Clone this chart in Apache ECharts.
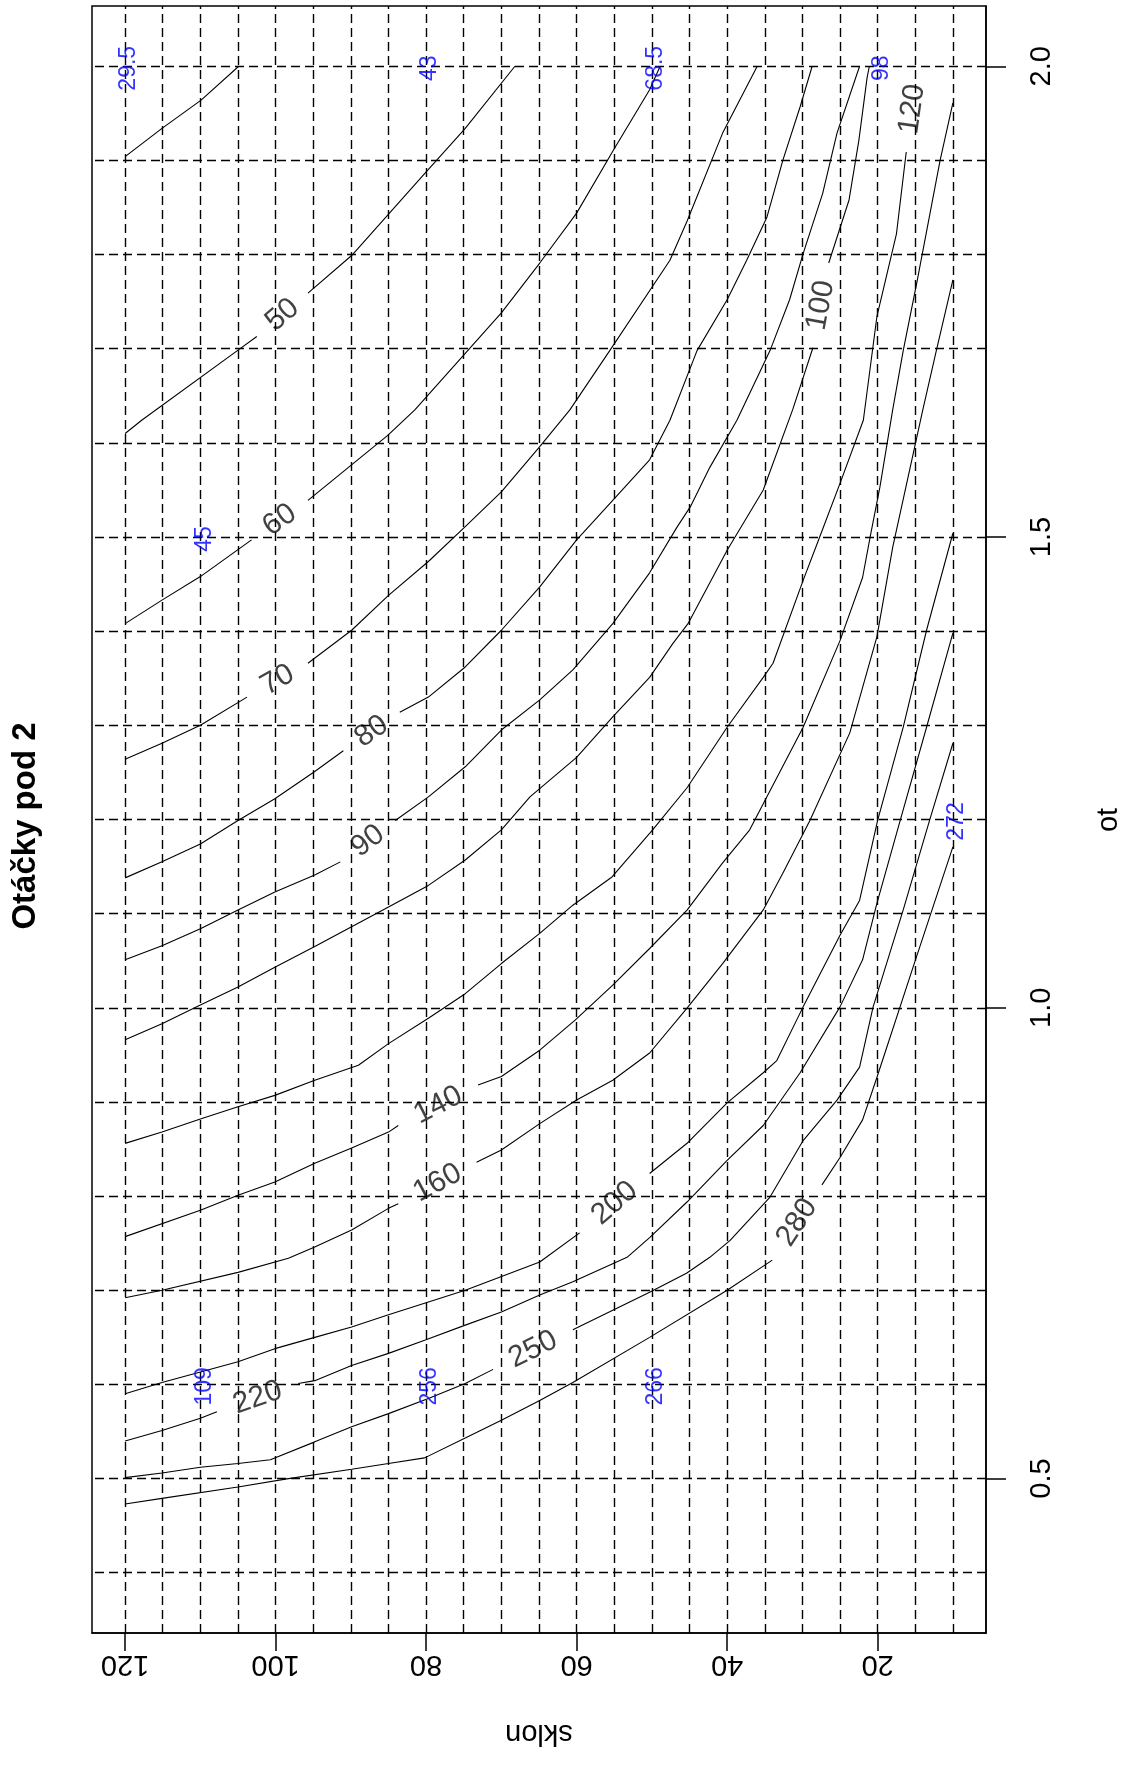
<!DOCTYPE html>
<html><head><meta charset="utf-8">
<script src="https://cdn.jsdelivr.net/npm/echarts/dist/echarts.min.js"></script>
<style>html,body{margin:0;padding:0;background:#fff}#c{width:1127px;height:1765px}</style>
</head><body><div id="c"></div>
<script>
// ---- data ----
const titleText = 'Otáčky pod 2';
const sklonName = 'sklon';
const otName = 'ot';
const sklonTicks = [20, 40, 60, 80, 100, 120];
const otTicks = [0.5, 1.0, 1.5, 2.0];
const sklonGrid = [10,15,20,25,30,35,40,45,50,55,60,65,70,75,80,85,90,95,100,105,110,115,120];
const otGrid = [0.4,0.5,0.6,0.7,0.8,0.9,1.0,1.1,1.2,1.3,1.4,1.5,1.6,1.7,1.8,1.9,2.0];
const sklonRange = [10, 120];
const otRange = [0.4, 2.0];

// contour lines: [sklon, ot]; a level's pieces are split where R put its label
const c40 = [[[120,1.904],[115.1,1.934],[109.9,1.964],[104.9,2.0]]];
const c50 = [[[120,1.610],[117.8,1.624],[104.9,1.699],[102.5,1.713]],
  [[95.7,1.759],[89.9,1.799],[80.2,1.886],[74.8,1.934],[68.2,2.0]]];
const c60 = [[[120,1.408],[115.1,1.433],[110.0,1.458],[103.2,1.497]],
  [[95.7,1.539],[85.1,1.608],[81.5,1.635],[74.8,1.695],[70.0,1.738],[64.9,1.791],[60.0,1.844],[55.1,1.911],[50.3,1.975],[48.9,2.0]]];
const c70 = [[[120,1.264],[115.1,1.281],[110.0,1.300],[103.8,1.330]],
  [[95.7,1.366],[89.9,1.401],[85.0,1.438],[79.7,1.474],[74.8,1.511],[70.0,1.548],[64.9,1.596],[60.9,1.635],[55.6,1.698],[47.6,1.794],[45.3,1.836],[40.6,1.929],[36.0,2.0]]];
const c80 = [[[120,1.138],[115.1,1.155],[110.0,1.174],[105.0,1.199],[100.1,1.222],[94.8,1.251],[91.0,1.273]],
  [[83.5,1.314],[79.7,1.330],[74.8,1.362],[70.0,1.401],[64.9,1.447],[60.0,1.497],[55.2,1.539],[50.3,1.582],[47.6,1.624],[44.0,1.698],[40.0,1.752],[37.4,1.794],[34.7,1.840],[32.6,1.900],[30.3,1.957],[28.7,2.0]]];
const c90 = [[[120,1.051],[115.1,1.066],[110.0,1.084],[105.0,1.104],[100.1,1.123],[94.8,1.141],[91.4,1.155]],
  [[84.1,1.199],[79.7,1.224],[74.8,1.256],[70.0,1.295],[64.9,1.327],[60.5,1.359],[55.2,1.408],[50.3,1.462],[46.7,1.510],[44.9,1.532],[42.3,1.574],[38.7,1.624],[34.3,1.698],[31.7,1.752],[29.9,1.801],[27.3,1.865],[25.4,1.929],[22.4,2.0]]];
const c100 = [[[120,0.966],[115.1,0.983],[110.0,1.003],[105.0,1.022],[100.1,1.043],[94.8,1.065],[89.9,1.086],[85.0,1.107],[79.7,1.130],[74.8,1.157],[70.0,1.189],[66.2,1.224],[60.0,1.266],[55.2,1.309],[50.3,1.351],[47.2,1.387],[45.2,1.408],[40.0,1.486],[35.2,1.550],[31.3,1.635],[28.6,1.701]],
  [[26.5,1.791],[23.8,1.858],[22.5,1.921],[21.4,1.988],[21.1,2.0]]];
const c120 = [[[120,0.856],[115.1,0.868],[110.0,0.882],[105.0,0.895],[100.1,0.907],[94.8,0.923],[89.0,0.939],[85.0,0.962],[79.7,0.989],[74.8,1.015],[70.0,1.047],[64.9,1.079],[60.5,1.109],[55.3,1.139],[49.9,1.189],[45.3,1.234],[40.0,1.298],[35.2,1.351],[33.9,1.366],[29.9,1.454],[27.7,1.500],[25.0,1.557],[21.9,1.624],[20.1,1.734],[17.5,1.822],[16.2,1.909]],
  [[14.6,2.0]]];
const c140 = [[[120,0.757],[110.0,0.785],[105.0,0.801],[100.1,0.815],[94.8,0.835],[89.9,0.851],[85.0,0.868],[83.7,0.875]],
  [[73.1,0.918],[70.0,0.927],[64.9,0.955],[60.2,0.987],[55.2,1.024],[50.3,1.063],[45.3,1.104],[40.6,1.154],[37.0,1.189],[29.9,1.298],[25.0,1.390],[22.0,1.457],[21.0,1.500],[19.7,1.553],[18.0,1.635],[16.6,1.698],[14.8,1.770],[11.7,1.900],[10,1.961]]];
const c160 = [[[120,0.692],[115.1,0.700],[105.0,0.719],[98.3,0.734],[94.8,0.746],[89.9,0.764],[85.0,0.787],[83.7,0.792]],
  [[73.3,0.836],[70.0,0.849],[64.9,0.877],[60.0,0.902],[55.2,0.923],[50.3,0.952],[45.3,1.000],[40.6,1.047],[35.2,1.104],[32.6,1.143],[29.0,1.199],[23.7,1.292],[20.1,1.394],[18.0,1.489],[14.0,1.635],[12.2,1.698],[10,1.773]]];
const c200 = [[[120,0.590],[115.1,0.602],[105.0,0.624],[100.1,0.638],[94.8,0.650],[89.9,0.661],[85.0,0.674],[74.8,0.700],[64.9,0.730],[59.6,0.761]],
  [[50.3,0.824],[45.2,0.857],[40.0,0.899],[35.2,0.931],[33.4,0.944],[29.9,1.001],[25.0,1.077],[22.4,1.114],[20.0,1.199],[16.6,1.298],[13.5,1.401],[10,1.504]]];
const c220 = [[[120,0.540],[115.1,0.551],[110.0,0.564],[107.8,0.571]],
  [[97.0,0.601],[94.8,0.604],[89.9,0.620],[85.0,0.633],[80.2,0.647],[74.8,0.663],[70.0,0.677],[64.9,0.695],[60.5,0.709],[53.3,0.735],[50.3,0.756],[45.3,0.794],[40.0,0.838],[35.2,0.875],[30.3,0.931],[25.0,1.001],[22.0,1.051],[20.1,1.111],[17.0,1.199],[13.5,1.298],[10,1.398]]];
const c250 = [[[120,0.501],[115.1,0.506],[110.0,0.512],[105.0,0.516],[100.7,0.520],[94.8,0.539],[89.9,0.555],[85.0,0.569],[79.7,0.585],[74.8,0.601],[71.1,0.616]],
  [[60.5,0.658],[50.3,0.698],[45.4,0.718],[42.3,0.735],[39.6,0.753],[34.3,0.799],[29.9,0.859],[25.4,0.902],[22.4,0.937],[20.6,1.001],[16.6,1.104],[13.1,1.199],[10,1.281]]];
const c280 = [[[120,0.473],[115.1,0.479],[105.0,0.491],[98.3,0.500],[89.9,0.510],[85.0,0.516],[80.2,0.522],[74.8,0.543],[70.0,0.562],[64.9,0.583],[60.5,0.602],[50.3,0.650],[40.0,0.700],[34.0,0.732]],
  [[27.4,0.812],[25.0,0.841],[22.0,0.881],[20.1,0.926],[15.3,1.043],[10,1.171]]];

const levels = [40, 50, 60, 70, 80, 90, 100, 120, 140, 160, 200, 220, 250, 280];
const contourLines = [c40, c50, c60, c70, c80, c90, c100, c120, c140, c160, c200, c220, c250, c280];

// measured points written in blue
const ptSklon = [120, 80, 50, 20, 110, 110, 80, 50, 10];
const ptOt = [2.0, 2.0, 2.0, 2.0, 1.5, 0.6, 0.6, 0.6, 1.2];
const ptText = ['29.5', '43', '68.5', '98', '45', '109', '256', '266', '272'];

// ---- chart ----
const FONT = '"Liberation Sans", Arial, sans-serif';
const pad = (r) => (r[1] - r[0]) * 0.04;
const xMin = sklonRange[0] - pad(sklonRange), xMax = sklonRange[1] + pad(sklonRange);
const yMin = otRange[0] - pad(otRange), yMax = otRange[1] + pad(otRange);

const chart = echarts.init(document.getElementById('c'), null, {renderer: 'canvas'});

const series = [];
// dashed reference grid
series.push({
  type: 'line', data: [], silent: true, animation: false,
  markLine: {
    silent: true, animation: false, symbol: ['none', 'none'],
    label: {show: false},
    lineStyle: {color: '#000', width: 1.4, type: [9, 5]},
    data: sklonGrid.map(v => ({xAxis: v})).concat(otGrid.map(v => ({yAxis: v})))
  }
});
contourLines.forEach((pieces, i) => {
  pieces.forEach(seg => {
    series.push({
      type: 'line', name: String(levels[i]), data: seg, symbol: 'none', showSymbol: false,
      silent: true, animation: false, z: 3,
      lineStyle: {color: '#000', width: 1.1}
    });
  });
});
series.push({
  id: 'clabels', type: 'scatter', data: [], symbolSize: 1, silent: true, animation: false, z: 4,
  itemStyle: {color: 'rgba(0,0,0,0)'},
  label: {show: true, position: 'inside', color: '#111', fontSize: 30, fontFamily: FONT,
    formatter: p => String(p.value[2])}
});
series.push({
  type: 'scatter', symbolSize: 1, silent: true, animation: false, z: 5,
  itemStyle: {color: 'rgba(0,0,0,0)'},
  data: ptSklon.map((s, i) => [s, ptOt[i], ptText[i]]),
  label: {show: true, position: 'inside', rotate: 90, color: '#0000ff', fontSize: 23, fontFamily: FONT,
    offset: [-2, 4], formatter: p => p.value[2]}
});

const option = {
  backgroundColor: '#fff',
  animation: false,
  grid: {left: 92, right: 141, top: 6, bottom: 132, show: true, borderColor: '#000', borderWidth: 1.5},
  xAxis: {
    type: 'value', min: xMin, max: xMax, inverse: true, position: 'bottom',
    axisLine: {show: true, onZero: false, lineStyle: {color: '#000', width: 1.5}},
    axisTick: {show: true, customValues: sklonTicks, length: 18, lineStyle: {color: '#000', width: 1.5}},
    axisLabel: {show: true, customValues: sklonTicks, rotate: 180, fontSize: 29, color: '#000', fontFamily: FONT,
      margin: 16, align: 'center', verticalAlign: 'bottom', formatter: v => String(v)},
    splitLine: {show: false}
  },
  yAxis: {
    type: 'value', min: yMin, max: yMax, position: 'right',
    axisLine: {show: true, onZero: false, lineStyle: {color: '#000', width: 1.5}},
    axisTick: {show: true, customValues: otTicks, length: 20, lineStyle: {color: '#000', width: 1.5}},
    axisLabel: {show: true, customValues: otTicks, rotate: 90, fontSize: 29, color: '#000', fontFamily: FONT,
      margin: 41, align: 'center', verticalAlign: 'top', formatter: v => Number(v).toFixed(1)},
    splitLine: {show: false}
  },
  graphic: [
    {type: 'text', x: 26, y: 826, rotation: Math.PI / 2, silent: true,
      style: {text: titleText, font: 'bold 33px ' + FONT, fill: '#000', textAlign: 'center', textVerticalAlign: 'middle', align: 'center', verticalAlign: 'middle'}},
    {type: 'text', x: 539, y: 1733, rotation: Math.PI, silent: true,
      style: {text: sklonName, font: '29px ' + FONT, fill: '#000', textAlign: 'center', textVerticalAlign: 'middle', align: 'center', verticalAlign: 'middle'}},
    {type: 'text', x: 1109, y: 820, rotation: Math.PI / 2, silent: true,
      style: {text: otName, font: '29px ' + FONT, fill: '#000', textAlign: 'center', textVerticalAlign: 'middle', align: 'center', verticalAlign: 'middle'}}
  ],
  series: series
};
chart.setOption(option);

// contour labels placed in each gap, turned along the line
const labelData = [];
contourLines.forEach((pieces, i) => {
  if (pieces.length < 2) return;
  const a = pieces[0][pieces[0].length - 1], b = pieces[1][0];
  const pa = chart.convertToPixel({gridIndex: 0}, a);
  const pb = chart.convertToPixel({gridIndex: 0}, b);
  let ang = Math.atan2(-(pb[1] - pa[1]), pb[0] - pa[0]) * 180 / Math.PI;
  if (ang > 90) ang -= 180;
  if (ang < -90) ang += 180;
  labelData.push({value: [(a[0] + b[0]) / 2, (a[1] + b[1]) / 2, levels[i]], label: {rotate: ang}});
});
chart.setOption({series: [{id: 'clabels', data: labelData}]});
</script>
</body></html>
